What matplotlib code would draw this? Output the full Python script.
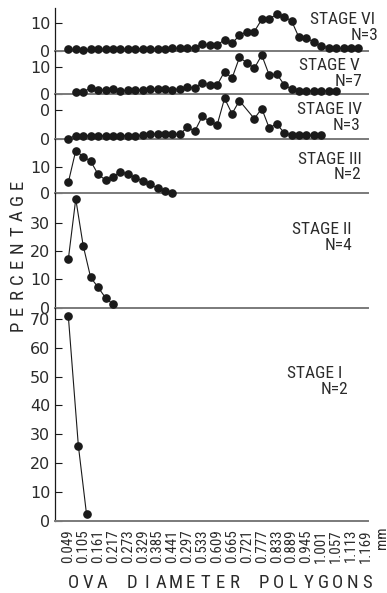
import matplotlib.pyplot as plt

W, H = 387, 593

# ova diameter class labels (every other polygon point)
size_labels = ["0.049", "0.105", "0.161", "0.217", "0.273", "0.329", "0.385",
               "0.441", "0.297", "0.533", "0.609", "0.665", "0.721", "0.777",
               "0.833", "0.889", "0.945", "1.001", "1.057", "1.113", "1.169"]

# percentages per stage, x = polygon point index
stage6_x = list(range(0, 40))
stage6_y = [0.6, 0.6, 0.4, 0.6, 0.7, 0.7, 0.7, 0.7, 0.8, 0.8, 0.8, 0.9, 0.9, 0.9,
            1.0, 1.0, 1.2, 1.2, 2.5, 2.2, 2.2, 4.0, 2.8, 5.6, 7.0, 7.0, 11.4, 11.6,
            13.2, 12.3, 10.9, 4.9, 4.7, 3.2, 1.8, 1.2, 1.0, 1.0, 1.0, 1.0]

stage5_x = list(range(1, 37))
stage5_y = [0.6, 0.9, 2.1, 1.5, 1.5, 1.7, 1.1, 1.5, 1.5, 1.5, 2.0, 2.0, 2.0, 1.5,
            2.0, 2.5, 2.3, 4.2, 3.3, 3.3, 8.3, 5.8, 13.5, 11.6, 9.5, 14.4, 7.0,
            7.4, 3.5, 1.8, 1.2, 1.2, 1.2, 1.2, 1.2, 1.2]

stage4_x = list(range(0, 24)) + list(range(25, 35))
stage4_y = [0.1, 1.2, 1.2, 1.2, 1.2, 1.1, 1.2, 1.2, 1.2, 1.2, 1.3, 1.8, 1.7, 1.8,
            1.8, 1.6, 4.1, 2.7, 7.8, 6.1, 4.8, 14.0, 8.7, 13.2,
            7.0, 10.5, 3.8, 5.2, 2.2, 1.3, 1.3, 1.3, 1.3, 1.3]

stage3_x = list(range(0, 15))
stage3_y = [4.2, 16.4, 14.1, 12.4, 7.3, 5.1, 6.4, 8.3, 7.4, 6.0, 4.7, 3.5, 1.9, 0.9, 0.3]

stage2_x = list(range(0, 7))
stage2_y = [17.1, 38.4, 21.9, 10.7, 7.2, 3.5, 1.2]

stage1_x = [0, 1.35, 2.45]
stage1_y = [71, 26, 2.2]

stages = [
    # name, n, x, y, yticks, yticklabels, ylim top, panel top px, panel bottom px
    ("STAGE VI", "N=3", stage6_x, stage6_y, [0, 10], ["0", "10"], 15.5, 8, 51),
    ("STAGE V", "N=7", stage5_x, stage5_y, [0, 10], ["0", "10"], 15.9, 51, 94),
    ("STAGE IV", "N=3", stage4_x, stage4_y, [0, 10], ["0", "0"], 15.5, 94, 139),
    ("STAGE III", "N=2", stage3_x, stage3_y, [0, 10], ["0", "10"], 20.9, 139, 193.3),
    ("STAGE II", "N=4", stage2_x, stage2_y, [0, 10, 20, 30],
     ["0", "10", "20", "30"], 40.4, 193.3, 307.7),
    ("STAGE I", "N=2", stage1_x, stage1_y, list(range(0, 80, 10)),
     [str(v) for v in range(0, 80, 10)], 73.9, 307.7, 520.7),
]

# label anchor (right edge px, centre y px) for stage name and N
label_pos = [
    ((375, 19.5), (378, 36)),
    ((360, 65), (362, 81.5)),
    ((362, 109), (360, 125.5)),
    ((362, 159), (361, 175)),
    ((352, 229), (352, 245)),
    ((342, 373.5), (348, 390)),
]

text_font = ["Roboto Condensed", "Liberation Sans Narrow", "DejaVu Sans"]
num_font = ["DejaVu Sans"]
grey = "#7a7a7a"
ink = "#1a1a1a"
txt = "#2b2b2b"


def spaced_text(fig, s, start, end, fixed, vertical=False, size=13.5):
    # spread the letters of s evenly between two pixel positions
    step = (end - start) / (len(s) - 1)
    for i, ch in enumerate(s):
        if ch == " ":
            continue
        p = start + i * step
        if vertical:
            fig.text(fixed / W, 1 - p / H, ch, rotation=90, ha="center", va="center",
                     fontsize=size, color=txt, family=text_font)
        else:
            fig.text(p / W, 1 - fixed / H, ch, ha="center", va="center",
                     fontsize=size, color=txt, family=text_font)


fig = plt.figure(figsize=(W / 100, H / 100), dpi=100)

left, right = 55, 367.7
axes = []
for (name, n, xs, ys, yt, ytl, ytop, top, bottom), (lp1, lp2) in zip(stages, label_pos):
    ax = fig.add_axes([left / W, 1 - bottom / H, (right - left) / W, (bottom - top) / H])
    ax.plot(xs, ys, "-", color=ink, lw=0.8, marker="o", ms=5.2, mfc=ink, mec=ink,
            clip_on=False, zorder=3)
    ax.set_xlim(-1.79, 40.24)
    ax.set_ylim(0, ytop)
    ax.set_yticks(yt)
    ax.set_yticklabels(ytl, fontsize=11.5, color=txt, family=num_font)
    ax.tick_params(axis="y", direction="in", length=5, width=0.8, pad=3.5, color=ink)
    ax.set_xticks([])
    for s in ("top", "right"):
        ax.spines[s].set_visible(False)
    ax.spines["left"].set_color(ink)
    ax.spines["left"].set_linewidth(0.9)
    ax.spines["bottom"].set_color(grey)
    ax.spines["bottom"].set_linewidth(1.4)
    ax.patch.set_alpha(0)
    fig.text(lp1[0] / W, 1 - lp1[1] / H, name, ha="right", va="center",
             fontsize=12.5, color=txt, family=text_font)
    fig.text(lp2[0] / W, 1 - lp2[1] / H, n, ha="right", va="center",
             fontsize=12.5, color=txt, family=text_font)
    axes.append(ax)

ax = axes[-1]
ax.set_xticks(range(0, 42, 2))
ax.set_xticklabels(size_labels, rotation=90, fontsize=10.8, color=txt,
                   family=text_font, va="top")
ax.tick_params(axis="x", length=0, pad=6)
ax.text(42.1, -2.0, "mm", rotation=90, ha="center", va="top", fontsize=10.8,
        color=txt, family=text_font, transform=ax.transData, clip_on=False)

spaced_text(fig, "PERCENTAGE", 326, 184, 18, vertical=True)
spaced_text(fig, "OVA DIAMETER POLYGONS", 73, 367, 583)

fig.savefig("out.png", dpi=100)
